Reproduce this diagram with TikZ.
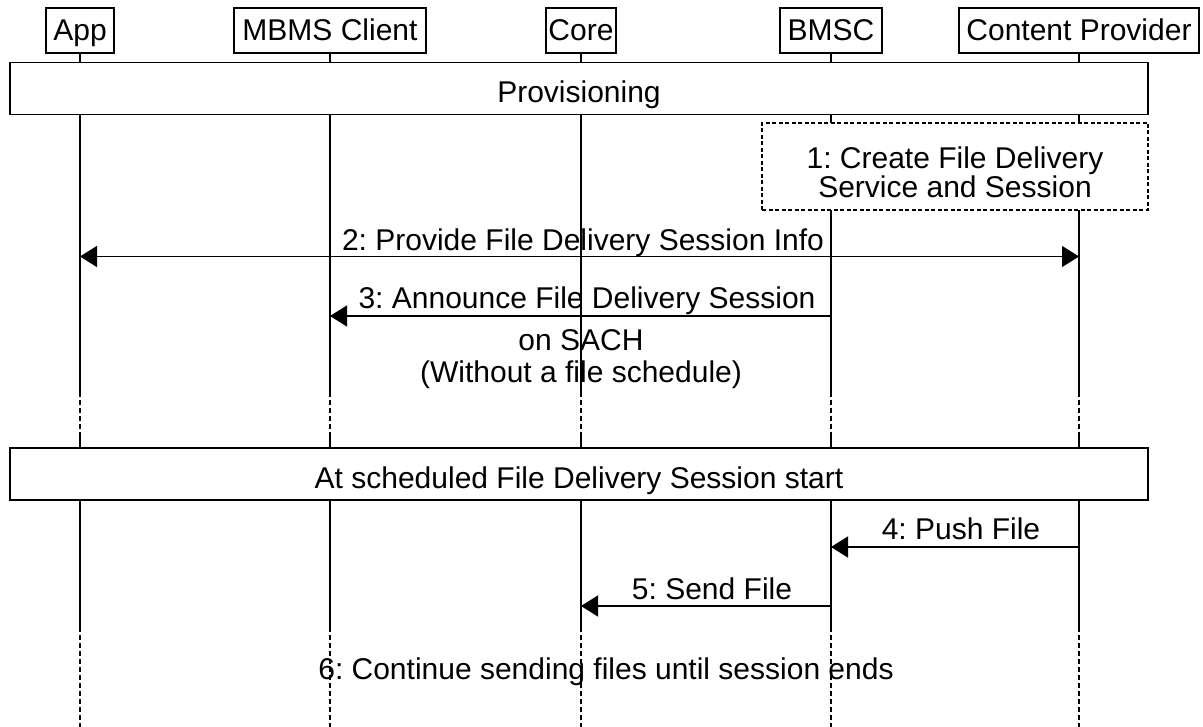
\documentclass[tikz,border=0pt]{standalone}
\usepackage{fontspec}
\setmainfont{Liberation Sans}
\usetikzlibrary{arrows.meta}
\frenchspacing

\tikzset{
	entity/.style={draw, line width=1.4pt, minimum height=45pt, inner sep=0pt, text height=23pt, text depth=3pt},
	phase/.style={draw, fill=white, line width=1.4pt, minimum width=1138pt, minimum height=52pt, text height=29pt, text depth=0pt},
	note/.style={draw, fill=white, line width=1.2pt, dash pattern=on 4pt off 2.5pt, minimum width=386pt, minimum height=87pt},
	txt/.style={anchor=base},
	life/.style={line width=1.4pt},
	lifegap/.style={line width=1.4pt, dash pattern=on 5pt off 3pt},
	msg/.style={line width=1.4pt, -{Triangle[length=17pt,width=21pt]}},
	bimsg/.style={line width=1.4pt, {Triangle[length=17pt,width=21pt]}-{Triangle[length=17pt,width=21pt]}},
}

\begin{document}
\begin{tikzpicture}[x=1pt, y=-1pt, font=\fontsize{30}{31}\selectfont]
	\useasboundingbox (0,0) rectangle (1203,727);
	
	% Participants
	\node[entity, minimum width=68pt] (app) at (80,30.5) {App};
	\node[entity, minimum width=192pt] (client) at (330,30.5) {MBMS Client};
	\node[entity, minimum width=70pt] (core) at (581,30.5) {Core};
	\node[entity, minimum width=102pt] (bmsc) at (831,30.5) {BMSC};
	\node[entity, minimum width=240pt] (cp) at (1079,30.5) {Content Provider};
	
	% Lifelines
	\foreach \n in {app,client,core,bmsc,cp} {
		\draw[life] (\n.south) -- (\n |- 0,392);
		\draw[lifegap] (\n |- 0,392) -- (\n |- 0,435);
		\draw[life] (\n |- 0,435) -- (\n |- 0,627);
		\draw[lifegap] (\n |- 0,627) -- (\n |- 0,727);
	}
	
	% Provisioning
	\node[phase] (prov) at (579,88.5) {Provisioning};
	\node[note] (create) at (955,166.5) {};
	\node[txt] (create1) at (955,168.5) {1: Create File Delivery};
	\node[txt] (create2) at (955,198) {Service and Session};
	
	% Session info and announcement
	\draw[bimsg] (app |- 0,256.5) -- (cp |- 0,256.5);
	\node[txt] (info) at (583,250.5) {2: Provide File Delivery Session Info};
	\draw[msg] (bmsc |- 0,316) -- (client |- 0,316);
	\node[txt] (announce) at (587,309) {3: Announce File Delivery Session};
	\node[txt] (sach1) at (581,351) {on SACH};
	\node[txt] (sach2) at (581,383) {(Without a file schedule)};
	
	% Session start
	\node[phase] (start) at (579,474) {At scheduled File Delivery Session start};
	\draw[msg] (cp |- 0,547) -- (bmsc |- 0,547);
	\node[txt] (push) at (961,539) {4: Push File};
	\draw[msg] (bmsc |- 0,606) -- (core |- 0,606);
	\node[txt] (send) at (712,599) {5: Send File};
	\node[txt] (cont) at (606,679) {6: Continue sending files until session ends};
	
\end{tikzpicture}
\end{document}
